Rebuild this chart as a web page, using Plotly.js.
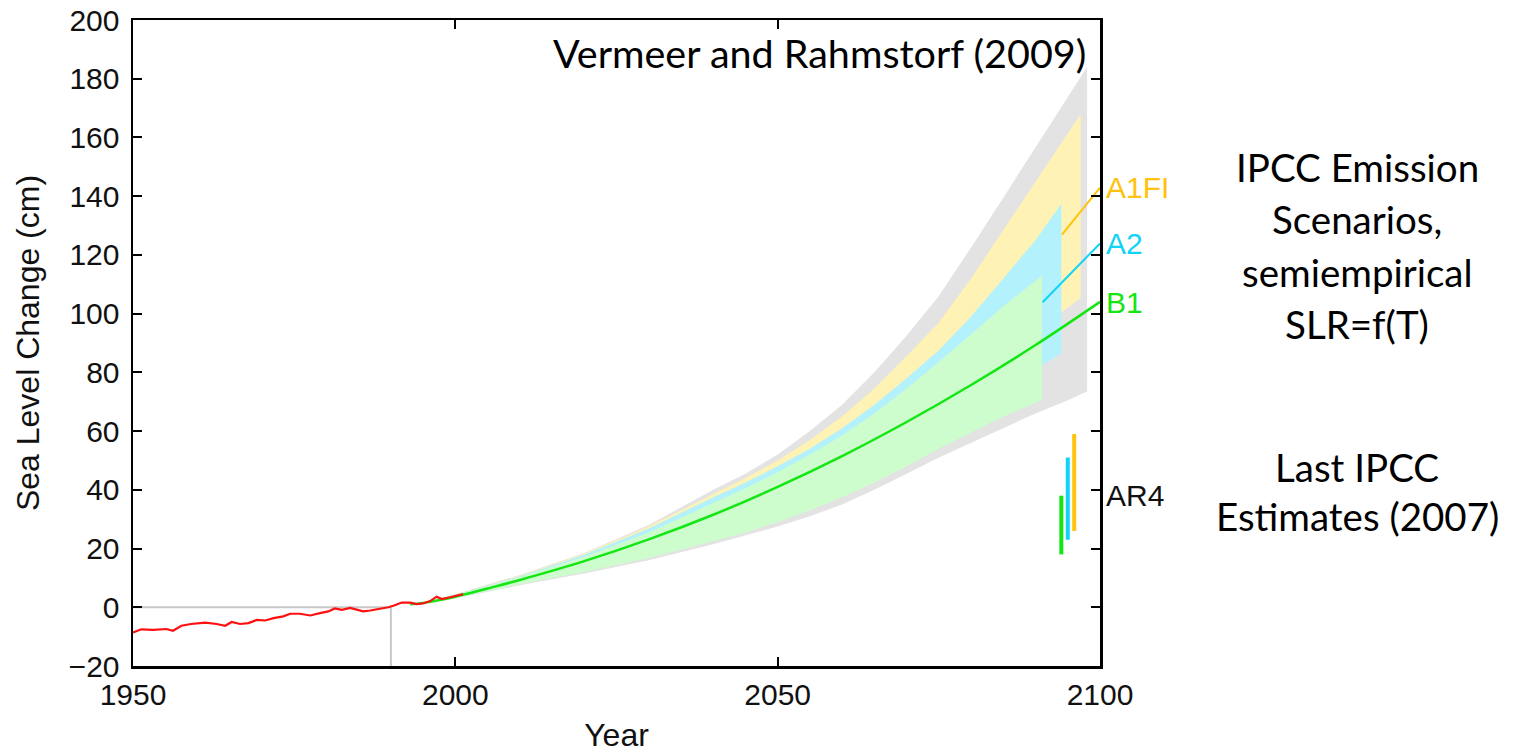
<!DOCTYPE html>
<html>
<head>
<meta charset="utf-8">
<script src="https://cdn.plot.ly/plotly-3.0.1.min.js"></script>
<style>html,body{margin:0;padding:0;background:#fff;}#chart{width:1516px;height:753px;}</style>
</head>
<body>
<div id="chart"></div>
<script>
// Observed sea level (red)
const obsYears = [1950,1951.3,1953.1,1955.2,1956.2,1957.5,1959,1961.2,1963,1964.3,1965.3,1966.6,1967.9,1969.2,1970.5,1971.8,1973.3,1974.4,1975.9,1977.5,1979,1980.3,1981.3,1982.4,1983.7,1984.7,1985.7,1986.8,1988,1989.6,1990.4,1991.7,1993,1994,1995,1996.1,1997.1,1997.9,1999.2,2000.2,2001.2];
const obsLevel = [-8.6,-7.5,-7.7,-7.4,-8.0,-6.3,-5.7,-5.2,-5.7,-6.3,-5.0,-5.7,-5.4,-4.3,-4.5,-3.7,-3.1,-2.2,-2.2,-2.8,-2.0,-1.4,-0.4,-0.9,-0.2,-0.7,-1.4,-1.1,-0.7,0.0,0.5,1.6,1.6,1.1,1.3,2.1,3.6,2.8,3.4,3.9,4.5];

// B1 central projection (green line)
const b1Years = [1993,1995,2000,2005,2010,2020,2030,2040,2050,2060,2070,2080,2090,2100];
const b1Mid = [1.0,1.5,3.6,6.4,9.3,15.7,23.1,31.5,41,51.5,63.1,75.7,89.3,104];

// Overall envelope (gray)
const grayYears = [1993,2000,2010,2020,2030,2040,2045,2050,2055,2060,2065,2070,2075,2080,2085,2090,2095,2098];
const grayUpper = [0.5,4.5,11,18.5,28,40,45.5,52,60,69,80,92.5,106,122.5,139.5,156.5,173.5,184];
const grayLower = [0.5,3,7.5,11.5,16,21.5,24.5,27.5,31,35,40,45.5,51,56,61,66,70.5,73.5];

// A1FI range (yellow)
const a1fiUpYears = [1993,2000,2010,2020,2030,2040,2045,2050,2055,2060,2065,2070,2075,2080,2085,2090,2095,2097];
const a1fiUpper = [0.5,4.4,10.8,18.2,27.5,38.5,44,50,57,65,74.5,85.5,97,112,128.5,145,161.5,168];
const a1fiLoYears = [1993,2000,2010,2020,2030,2040,2050,2060,2070,2080,2094,2097];
const a1fiLower = [0.5,3.4,8.3,13,18.5,25,33,43,55,70,100.4,105.4];

// A2 range (cyan)
const a2UpYears = [1993,2000,2010,2020,2030,2040,2045,2050,2055,2060,2065,2070,2075,2080,2085,2090,2094];
const a2Upper = [0.5,4.3,10.6,17.9,26.8,37.5,42.5,48,54,61,69,78,87.5,99,112,125,137.4];
const a2LoYears = [1993,2000,2010,2020,2030,2040,2050,2060,2070,2080,2091,2094];
const a2Lower = [0.5,3.3,8,12.5,17.5,23.5,30.5,39,50,63,82.4,86.4];

// B1 range (green)
const b1RangeYears = [1993,2000,2010,2020,2030,2040,2045,2050,2055,2060,2065,2070,2075,2080,2085,2091];
const b1Upper = [0.5,4.2,10.3,17.2,25.5,35.5,40.5,46,52,58.5,66,74.5,83.5,93,102.5,113];
const b1Lower = [0.5,3.2,7.8,12,16.8,22.5,25.5,29,33,37.5,42.5,48,54,59.5,65,70.5];

// AR4 (2007) ranges for B1, A2, A1FI
const ar4Names = ['B1','A2','A1FI'];
const ar4Years = [2094,2095,2096];
const ar4Low = [18,23,26];
const ar4High = [38,51,59];

// Reference year / baseline
const refYear = 1990;
const refStartYear = 1950;
const axisMin = -20;

// Scenario labels and connector lines
const scenNames = ['A1FI','A2','B1'];
const scenLabelY = [142.9,123.9,103.9];
const connFromYears = [2094.1,2091.1];
const connFromY = [126.9,103.9];

// Side text lines
const sideLines1 = ['IPCC Emission','Scenarios,','semiempirical','SLR=f(T)'];
const sideLines1Y = [150.1,132.2,114.3,96.6];
const sideLines2 = ['Last IPCC','Estimates (2007)'];
const sideLines2Y = [47.7,31.0];

const cGrayBand = '#e3e3e3', cYellowBand = '#fff2b5', cCyanBand = '#b3f1fd', cGreenBand = '#cdfccd';
const cOrange = '#ffc20e', cCyan = '#10d4f5', cGreen = '#14e614', cRed = '#ff1010';

function band(upX, upY, loX, loY, color) {
  return {
    x: upX.concat(loX.slice().reverse()),
    y: upY.concat(loY.slice().reverse()),
    type: 'scatter', mode: 'lines', fill: 'toself', fillcolor: color,
    line: {width: 0, color: color}, hoverinfo: 'skip', showlegend: false
  };
}

const traces = [
  band(grayYears, grayUpper, grayYears, grayLower, cGrayBand),
  band(a1fiUpYears, a1fiUpper, a1fiLoYears, a1fiLower, cYellowBand),
  band(a2UpYears, a2Upper, a2LoYears, a2Lower, cCyanBand),
  band(b1RangeYears, b1Upper, b1RangeYears, b1Lower, cGreenBand),
  {x: [refStartYear, refYear], y: [0, 0], type: 'scatter', mode: 'lines', line: {color: '#c8c8c8', width: 2}, showlegend: false},
  {x: [refYear, refYear], y: [axisMin, 0], type: 'scatter', mode: 'lines', line: {color: '#c8c8c8', width: 2}, showlegend: false},
  {x: b1Years, y: b1Mid, type: 'scatter', mode: 'lines', line: {color: cGreen, width: 2.5, shape: 'spline'}, showlegend: false},
  {x: obsYears, y: obsLevel, type: 'scatter', mode: 'lines', line: {color: cRed, width: 2.2}, showlegend: false},
  {x: [connFromYears[0], 2100], y: [connFromY[0], scenLabelY[0]], type: 'scatter', mode: 'lines', line: {color: cOrange, width: 2}, showlegend: false},
  {x: [connFromYears[1], 2100], y: [connFromY[1], scenLabelY[1]], type: 'scatter', mode: 'lines', line: {color: cCyan, width: 2}, showlegend: false}
];
const ar4Colors = [cGreen, cCyan, cOrange];
for (let i = 0; i < ar4Years.length; i++) {
  traces.push({x: [ar4Years[i], ar4Years[i]], y: [ar4Low[i], ar4High[i]], type: 'scatter', mode: 'lines',
    line: {color: ar4Colors[i], width: 4}, name: ar4Names[i], showlegend: false});
}

const tickFont = {family: 'Liberation Sans, Arial, sans-serif', size: 30, color: '#111'};
const titleFont = {family: 'Liberation Sans, Arial, sans-serif', size: 32, color: '#111'};
const calFont = {family: 'Lato, sans-serif', size: 38.5, color: '#000'};
const scenColors = [cOrange, cCyan, cGreen];
const annotations = [
  {x: 2100, y: 189, xref: 'x', yref: 'y', text: 'Vermeer and Rahmstorf (2009)', showarrow: false, xanchor: 'right', yanchor: 'middle', xshift: -12,
    font: Object.assign({}, calFont, {size: 39.5})},
  {x: 2100, y: 38, xref: 'x', yref: 'y', text: 'AR4', showarrow: false, xanchor: 'left', yanchor: 'middle', xshift: 4, font: tickFont}
];
sideLines1.forEach((t, i) => annotations.push({x: 1.2658, y: sideLines1Y[i], xref: 'paper', yref: 'y', text: t, showarrow: false,
  xanchor: 'center', yanchor: 'middle', font: calFont}));
sideLines2.forEach((t, i) => annotations.push({x: 1.2658, y: sideLines2Y[i], xref: 'paper', yref: 'y', text: t, showarrow: false,
  xanchor: 'center', yanchor: 'middle', font: calFont}));
for (let i = 0; i < scenNames.length; i++) {
  annotations.push({x: 2100, y: scenLabelY[i], xref: 'x', yref: 'y', text: scenNames[i], showarrow: false,
    xanchor: 'left', yanchor: 'middle', xshift: 4, font: Object.assign({}, tickFont, {color: scenColors[i]})});
}

const axisCommon = {
  showline: true, linecolor: '#000', linewidth: 2.5, mirror: 'ticks',
  ticks: 'inside', ticklen: 9, tickwidth: 2, tickcolor: '#000',
  showgrid: false, zeroline: false, tickfont: tickFont
};
const layout = {
  width: 1516, height: 753, autosize: false,
  margin: {l: 133, r: 416, t: 20, b: 87},
  paper_bgcolor: '#fff', plot_bgcolor: '#fff',
  showlegend: false,
  xaxis: Object.assign({}, axisCommon, {range: [1950, 2100], tickvals: [1950, 2000, 2050, 2100], ticklabelstandoff: 0,
    title: {text: 'Year', font: titleFont, standoff: 18}}),
  yaxis: Object.assign({}, axisCommon, {range: [-20, 200], tick0: 0, dtick: 20, ticklabelstandoff: 5,
    title: {text: 'Sea Level Change (cm)', font: titleFont, standoff: 20}}),
  annotations: annotations
};
Plotly.newPlot('chart', traces, layout, {displayModeBar: false, staticPlot: true});
</script>
</body>
</html>
